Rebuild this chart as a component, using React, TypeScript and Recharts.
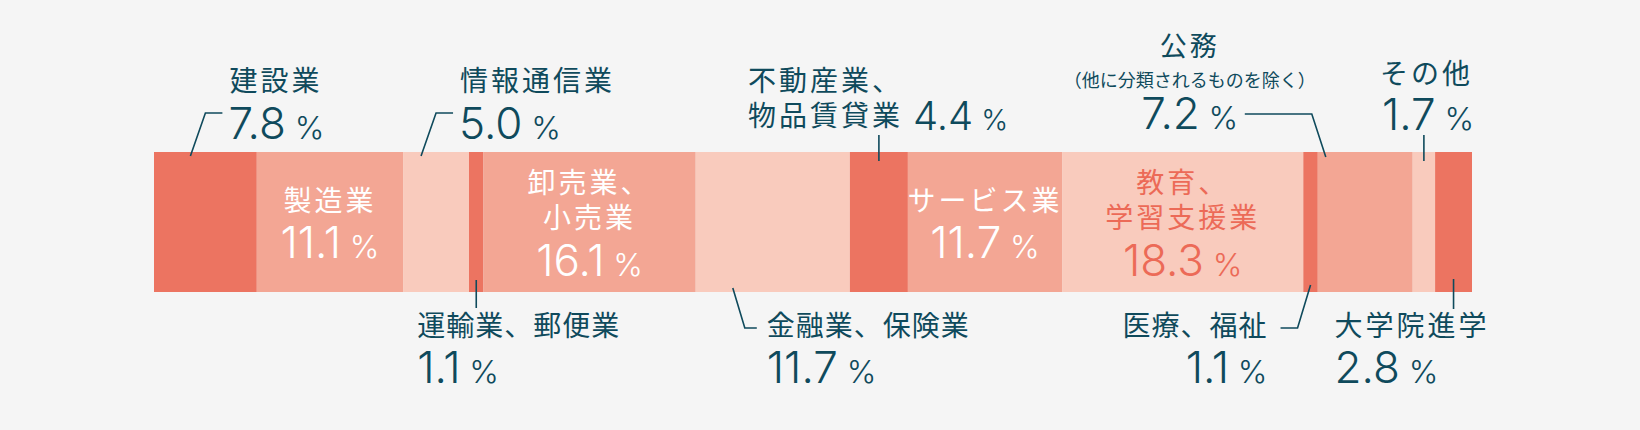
import { BarChart, Bar, XAxis, YAxis, LabelList } from 'recharts';

// 進路別の割合（%）
const categories = [
  '建設業',
  '製造業',
  '情報通信業',
  '運輸業、郵便業',
  '卸売業、小売業',
  '金融業、保険業',
  '不動産業、物品賃貸業',
  'サービス業',
  '教育、学習支援業',
  '医療、福祉',
  '公務（他に分類されるものを除く）',
  'その他',
  '大学院進学',
];
const shares = [7.8, 11.1, 5.0, 1.1, 16.1, 11.7, 4.4, 11.7, 18.3, 1.1, 7.2, 1.7, 2.8];

// how each name is broken into lines on the picture
const labelLines = [
  ['建設業'],
  ['製造業'],
  ['情報通信業'],
  ['運輸業、郵便業'],
  ['卸売業、', '小売業'],
  ['金融業、保険業'],
  ['不動産業、', '物品賃貸業'],
  ['サービス業'],
  ['教育、', '学習支援業'],
  ['医療、福祉'],
  ['公務', '（他に分類されるものを除く）'],
  ['その他'],
  ['大学院進学'],
];

const placement = [
  'topDiag', 'inside', 'topDiag', 'bottomStem', 'inside', 'bottomDiag', 'topStemLeft',
  'inside', 'inside', 'bottomDiagLeft', 'topElbow', 'topStem', 'bottomStemRight',
];

const palette = ['#EC7461', '#F3A694', '#F9CBBD'];
const INK = '#0F4A5C';
const JP = "'Noto Sans CJK JP', 'Noto Sans', sans-serif";
const NUM = "Inter, Roboto, sans-serif";

const row: Record<string, string | number> = { name: 'all' };
shares.forEach((v, i) => {
  row[`s${i}`] = v;
});
const rows = [row];

function Name({ x, y, text, anchor = 'start', color = INK, size = 28, spacing = 3 }: any) {
  return (
    <text x={x} y={y} textAnchor={anchor} fill={color} fontFamily={JP} fontSize={size} letterSpacing={spacing}>
      {text}
    </text>
  );
}

function Pct({ x, y, value, anchor = 'start', color = INK, size = 44 }: any) {
  return (
    <text x={x} y={y} textAnchor={anchor} fill={color} fontFamily={NUM}>
      <tspan fontSize={size} fontWeight={300}>
        {value.toFixed(1)}
      </tspan>
      <tspan dx={size * 0.2} fontSize={size * 0.72} fontWeight={300}>
        %
      </tspan>
    </text>
  );
}

function renderLabel(i: number, p: any) {
  const box = p.viewBox || p;
  const x = Number(box.x);
  const y = Number(box.y);
  const w = Number(box.width);
  const h = Number(box.height);
  const cx = x + w / 2;
  const top = y;
  const bottom = y + h;
  const lines = labelLines[i];
  const v = shares[i];
  const line = { stroke: INK, strokeWidth: 1.6, fill: 'none' };

  switch (placement[i]) {
    case 'inside': {
      const color = i === 8 ? '#EC6A57' : '#FFFFFF';
      if (lines.length === 1) {
        return (
          <g>
            <Name x={cx} y={top + 59} text={lines[0]} anchor="middle" color={color} />
            <Pct x={cx} y={top + 106} value={v} anchor="middle" color={color} />
          </g>
        );
      }
      return (
        <g>
          <Name x={cx} y={top + 41} text={lines[0]} anchor="middle" color={color} />
          <Name x={cx} y={top + 76} text={lines[1]} anchor="middle" color={color} />
          <Pct x={cx} y={top + 124} value={v} anchor="middle" color={color} />
        </g>
      );
    }
    case 'topDiag':
      return (
        <g>
          <path d={`M${cx - 15},${top + 4} L${cx},${top - 39} H${cx + 17}`} {...line} />
          <Name x={cx + 24} y={top - 61} text={lines[0]} />
          <Pct x={cx + 23} y={top - 13} value={v} />
        </g>
      );
    case 'topStemLeft':
      return (
        <g>
          <path d={`M${cx},${top + 9} V${top - 17}`} {...line} />
          <Name x={cx - 131} y={top - 61} text={lines[0]} />
          <Name x={cx - 131} y={top - 26} text={lines[1]} />
          <Pct x={cx + 34} y={top - 22} value={v} size={40} />
        </g>
      );
    case 'topElbow':
      return (
        <g>
          <path d={`M${x + 8},${top + 5} L${x - 6},${top - 38} H${x - 73}`} {...line} />
          <Name x={x - 128} y={top - 96} text={lines[0]} anchor="middle" size={27} />
          <Name x={x - 128} y={top - 65} text={lines[1]} anchor="middle" size={18} spacing={0} />
          <Pct x={x - 128} y={top - 23} value={v} anchor="middle" />
        </g>
      );
    case 'topStem':
      return (
        <g>
          <path d={`M${cx},${top + 9} V${top - 17}`} {...line} />
          <Name x={cx - 44} y={top - 68} text={lines[0]} />
          <Pct x={cx - 42} y={top - 22} value={v} />
        </g>
      );
    case 'bottomStem':
      return (
        <g>
          <path d={`M${cx},${bottom - 12} V${bottom + 16}`} {...line} />
          <Name x={cx - 59} y={bottom + 44} text={lines[0]} spacing={1} />
          <Pct x={cx - 59} y={bottom + 91} value={v} />
        </g>
      );
    case 'bottomDiag':
      return (
        <g>
          <path d={`M${cx - 40},${bottom - 4} L${cx - 28},${bottom + 36} H${cx - 16}`} {...line} />
          <Name x={cx - 6} y={bottom + 44} text={lines[0]} spacing={1} />
          <Pct x={cx - 6} y={bottom + 91} value={v} />
        </g>
      );
    case 'bottomDiagLeft':
      return (
        <g>
          <path d={`M${cx},${bottom - 7} L${cx - 13},${bottom + 36} H${cx - 30}`} {...line} />
          <Name x={cx - 43} y={bottom + 44} text={lines[0]} anchor="end" spacing={1} />
          <Pct x={cx - 43} y={bottom + 91} value={v} anchor="end" />
        </g>
      );
    case 'bottomStemRight':
      return (
        <g>
          <path d={`M${cx},${bottom - 13} V${bottom + 17}`} {...line} />
          <Name x={cx - 119} y={bottom + 44} text={lines[0]} />
          <Pct x={cx - 119} y={bottom + 91} value={v} />
        </g>
      );
    default:
      return null;
  }
}

export default function App() {
  return (
    <div style={{ width: 1640, height: 430, background: '#F5F5F5' }}>
      <style>{'body{margin:0}'}</style>
      <BarChart
        layout="vertical"
        width={1640}
        height={430}
        data={rows}
        margin={{ top: 152, right: 168, bottom: 138, left: 154 }}
        barCategoryGap={0}
      >
        <XAxis type="number" domain={[0, 100]} hide />
        <YAxis type="category" dataKey="name" hide />
        {shares.map((_, i) => (
          <Bar
            key={categories[i]}
            name={categories[i]}
            dataKey={`s${i}`}
            stackId="a"
            fill={palette[i % 3]}
            stroke="#FBD9CF"
            strokeWidth={0}
            isAnimationActive={false}
          >
            <LabelList content={(p: any) => renderLabel(i, p)} />
          </Bar>
        ))}
      </BarChart>
    </div>
  );
}
